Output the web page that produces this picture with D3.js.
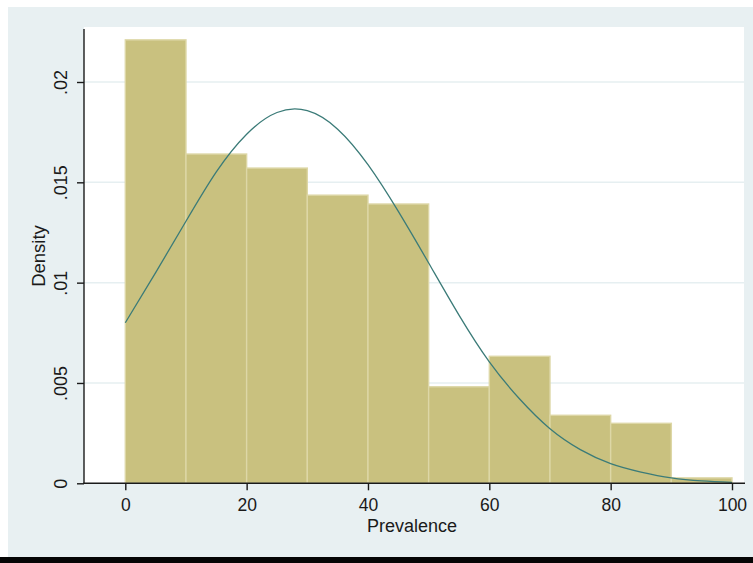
<!DOCTYPE html>
<html>
<head>
<meta charset="utf-8">
<script src="https://cdn.jsdelivr.net/npm/d3@7"></script>
<style>
  html, body { margin: 0; padding: 0; background: #ffffff; }
  svg { display: block; }
  text { font-family: "Liberation Sans", Arial, sans-serif; fill: #1a1a1a; }
</style>
</head>
<body>
<svg id="chart" width="753" height="563"></svg>
<script>
// Histogram bins of Prevalence (lower edge of each 10-unit bin) and their densities
const binStarts = [0, 10, 20, 30, 40, 50, 60, 70, 80, 90];
const binWidth = 10;
const densities = [0.0221, 0.01641, 0.01571, 0.01436, 0.01392, 0.00481, 0.00633, 0.00339, 0.00299, 0.00027];

// Overlaid normal density curve, sampled every 5 units of Prevalence
const curveX = [0, 5, 10, 15, 20, 25, 30, 35, 40, 45, 50, 55, 60, 65, 70, 75, 80, 85, 90, 95, 100];
const curveY = [0.0080, 0.01050, 0.01306, 0.01552, 0.01740, 0.01848, 0.01857, 0.01765, 0.01588, 0.01355,
                0.01098, 0.00838, 0.00605, 0.00420, 0.00272, 0.00168, 0.00098, 0.00056, 0.00027, 0.00012, 0.00005];

// Axis ticks
const xTicks = [0, 20, 40, 60, 80, 100];
const yTicks = [0, 0.005, 0.01, 0.015, 0.02];
const yTickLabels = ["0", ".005", ".01", ".015", ".02"];
const xTitle = "Prevalence";
const yTitle = "Density";

const svg = d3.select("#chart");
const W = 753, H = 563;

// Layout
const outer = { left: 8, top: 7, right: 753, bottom: 557 };
const plot = { left: 84, top: 27, right: 744, bottom: 483.3 };

const x = d3.scaleLinear().domain([0, 100]).range([125.3, 732]);
const y = d3.scaleLinear().domain([0, 0.02]).range([483.3, 82]);

// Graph region background and the dark band along the bottom
svg.append("rect").attr("x", outer.left).attr("y", outer.top)
  .attr("width", outer.right - outer.left).attr("height", outer.bottom - outer.top)
  .attr("fill", "#e8f0f2");
svg.append("rect").attr("x", 0).attr("y", outer.bottom)
  .attr("width", W).attr("height", H - outer.bottom)
  .attr("fill", "#050505");

// Plot region
svg.append("rect").attr("x", plot.left).attr("y", plot.top)
  .attr("width", plot.right - plot.left).attr("height", plot.bottom - plot.top)
  .attr("fill", "#ffffff");

// Horizontal grid lines
svg.append("g").selectAll("line")
  .data(yTicks.filter(d => d > 0))
  .join("line")
  .attr("x1", plot.left).attr("x2", plot.right)
  .attr("y1", d => y(d)).attr("y2", d => y(d))
  .attr("stroke", "#e6eff1").attr("stroke-width", 1.5);

// Histogram bars
const bins = binStarts.map((b, i) => ({ x0: b, x1: b + binWidth, d: densities[i] }));
svg.append("g").selectAll("rect")
  .data(bins)
  .join("rect")
  .attr("x", d => x(d.x0))
  .attr("y", d => y(d.d))
  .attr("width", d => x(d.x1) - x(d.x0))
  .attr("height", d => y(0) - y(d.d))
  .attr("fill", "#c9c17f")
  .attr("stroke", "#ddd7a6")
  .attr("stroke-width", 1.4);

// Normal density curve
const pts = curveX.map((v, i) => [v, curveY[i]]);
svg.append("path")
  .datum(pts)
  .attr("d", d3.line().x(d => x(d[0])).y(d => y(d[1])).curve(d3.curveNatural))
  .attr("fill", "none")
  .attr("stroke", "#3b7b78")
  .attr("stroke-width", 1.3);

// Y axis
const yAxis = svg.append("g")
  .attr("transform", `translate(${plot.left},0)`)
  .call(d3.axisLeft(y).tickValues(yTicks).tickSize(7).tickPadding(0).tickFormat((d, i) => yTickLabels[i]));
yAxis.select(".domain").remove();
yAxis.append("line")
  .attr("x1", 0).attr("x2", 0).attr("y1", 29).attr("y2", plot.bottom + 0.5)
  .attr("stroke", "#1a1a1a").attr("stroke-width", 1.4);
yAxis.selectAll(".tick line").attr("stroke", "#1a1a1a").attr("stroke-width", 1.4);
yAxis.selectAll(".tick text")
  .attr("x", 0).attr("dy", null)
  .attr("transform", "translate(-17.5,0) rotate(-90)")
  .attr("text-anchor", "middle")
  .attr("font-size", 18)
  .attr("fill", "#1a1a1a");

// X axis
const xAxis = svg.append("g")
  .attr("transform", `translate(0,${plot.bottom})`)
  .call(d3.axisBottom(x).tickValues(xTicks).tickSize(7).tickPadding(0).tickFormat(d3.format("d")));
xAxis.select(".domain").remove();
xAxis.append("line")
  .attr("x1", plot.left - 0.7).attr("x2", 745).attr("y1", 0).attr("y2", 0)
  .attr("stroke", "#1a1a1a").attr("stroke-width", 1.4);
xAxis.selectAll(".tick line").attr("stroke", "#1a1a1a").attr("stroke-width", 1.4);
xAxis.selectAll(".tick text")
  .attr("y", 27.8).attr("dy", null)
  .attr("font-size", 17.5)
  .attr("fill", "#1a1a1a");

// Axis titles
svg.append("text")
  .attr("x", 412).attr("y", 532)
  .attr("text-anchor", "middle")
  .attr("font-size", 18)
  .text(xTitle);
svg.append("text")
  .attr("transform", "translate(45,256) rotate(-90)")
  .attr("text-anchor", "middle")
  .attr("font-size", 18.5)
  .text(yTitle);
</script>
</body>
</html>
